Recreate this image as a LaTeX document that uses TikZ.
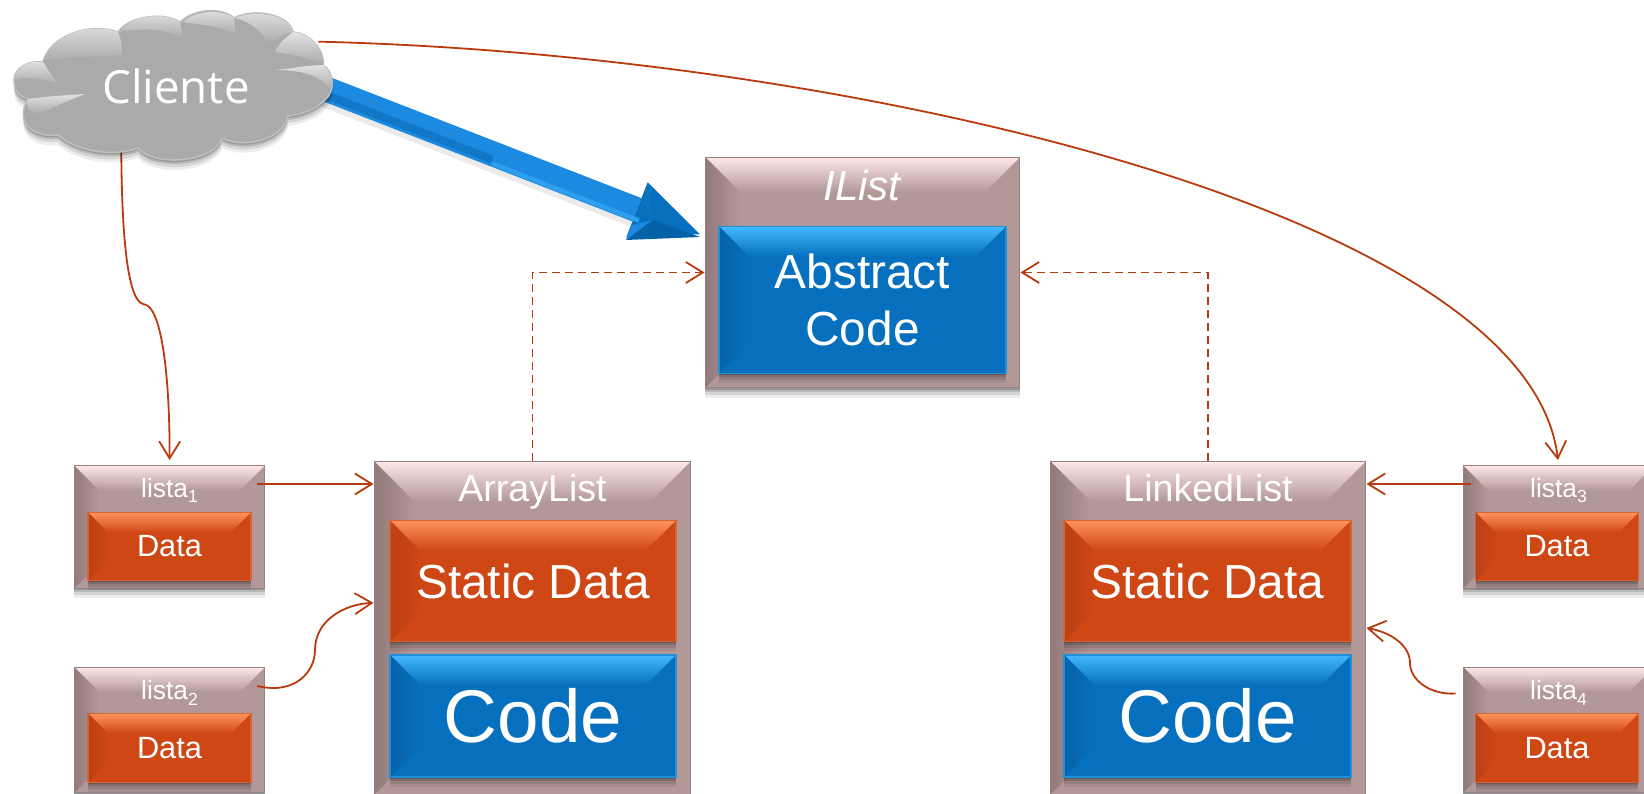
\documentclass[tikz,border=0pt]{standalone}
\usepackage{fontspec}
\setmainfont{Liberation Sans}
\newfontfamily\cloudfont{Open Sans}
\usetikzlibrary{arrows.meta,shadows,calc}
\pgfdeclarelayer{back}
\pgfsetlayers{back,main}

\definecolor{outerbase}{RGB}{179,152,152}
\definecolor{outertop}{RGB}{255,232,232}
\definecolor{outerleft}{RGB}{146,122,122}
\definecolor{orangebase}{RGB}{206,71,21}
\definecolor{orangetop}{RGB}{255,146,92}
\definecolor{orangeleft}{RGB}{186,64,20}
\definecolor{bluebase}{RGB}{6,112,190}
\definecolor{bluetop}{RGB}{66,184,255}
\definecolor{blueleft}{RGB}{5,98,168}
\definecolor{arrowblue}{RGB}{27,138,224}
\definecolor{arrowline}{RGB}{184,58,14}
\definecolor{cloudbase}{RGB}{170,170,170}
\definecolor{cloudlight}{RGB}{226,226,226}

\newcommand{\listasub}[1]{\raisebox{-0.12cm}{\fontsize{10}{10}\selectfont #1}}

\begin{document}
\begin{tikzpicture}[x=0.02cm,y=-0.02cm]
\tikzset{
  >={Straight Barb[length=0.34cm,width=0.42cm,line width=0.036cm]},
  SoftShadow/.style = {
    drop shadow={shadow xshift=0cm, shadow yshift=-0.20cm, opacity=.07, fill=black},
    drop shadow={shadow xshift=0cm, shadow yshift=-0.14cm, opacity=.10, fill=black},
    drop shadow={shadow xshift=0cm, shadow yshift=-0.08cm, opacity=.14, fill=black},
    drop shadow={shadow xshift=0cm, shadow yshift=-0.04cm, opacity=.18, fill=black},
  },
  bevelbox/.style n args = {4}{
    SoftShadow, fill=#1, inner sep=0pt, text=white, align=center,
    path picture={
      \coordinate (pnw) at (path picture bounding box.north west);
      \coordinate (pne) at (path picture bounding box.north east);
      \coordinate (psw) at (path picture bounding box.south west);
      \shade[top color=#2, bottom color=#1]
        (pnw) -- (pne) -- ++(-#4,-#4) -- ([shift={(#4,-#4)}]pnw) -- cycle;
      \shade[left color=#3, right color=#1]
        (pnw) -- ([shift={(#4,-#4)}]pnw) -- ([shift={(#4,#4)}]psw) -- (psw) -- cycle;
    },
  },
  OuterBox/.style = {bevelbox={outerbase}{outertop}{outerleft}{#1},
                     draw=outerbase!85!black, line width=0.02cm},
  OrangeBox/.style = {bevelbox={orangebase}{orangetop}{orangeleft}{#1},
                      draw=orangebase!85!white, line width=0.03cm},
  BlueBox/.style = {bevelbox={bluebase}{bluetop}{blueleft}{#1},
                    draw=bluetop!45!bluebase, line width=0.03cm},
  TitleText/.style = {text=white, inner sep=0pt, text height=0.52cm, text depth=0.1cm},
  ListaTitle/.style = {TitleText, font=\fontsize{15}{15}\selectfont, minimum width=3.5cm,
                       text height=0.52cm, text depth=0cm},
  ConnLine/.style = {draw=arrowline, line width=0.036cm, ->},
  DashLine/.style = {ConnLine, dash pattern=on 0.16cm off 0.1cm},
  Lobe/.style = {top color=cloudlight, bottom color=cloudbase, draw=none},
}
\clip (0,0) rectangle (1644,794);

  % central interface
  \node (ilist) [OuterBox=0.7cm, minimum width=6.3cm, minimum height=4.62cm] at (862.5,272.5) {};
  \node (ilisttitle) [TitleText, font=\fontsize{24}{24}\selectfont\itshape] at (862,190) {IList};
  \node (ilistcode) [BlueBox=0.6cm, minimum width=5.74cm, minimum height=2.94cm,
                     font=\fontsize{27.2}{32.3}\selectfont] at (862.5,300) {Abstract\\Code};

  % left implementation
  \node (arraylist) [OuterBox=0.8cm, minimum width=6.34cm, minimum height=6.68cm] at (532.5,628) {};
  \node (arraytitle) [TitleText, font=\fontsize{21.4}{21}\selectfont] at (532.5,491) {ArrayList};
  \node (arraydata) [OrangeBox=0.6cm, minimum width=5.72cm, minimum height=2.42cm,
                     font=\fontsize{27.2}{27}\selectfont] at (533,581) {Static Data};
  \node (arraycode) [BlueBox=0.6cm, minimum width=5.72cm, minimum height=2.44cm,
                     font=\fontsize{42.5}{43}\selectfont] at (533,716) {Code};

  % right implementation
  \node (linkedlist) [OuterBox=0.8cm, minimum width=6.32cm, minimum height=6.68cm] at (1208,628) {};
  \node (linkedtitle) [TitleText, font=\fontsize{21.4}{21}\selectfont] at (1208,491) {LinkedList};
  \node (linkeddata) [OrangeBox=0.6cm, minimum width=5.74cm, minimum height=2.42cm,
                      font=\fontsize{27.2}{27}\selectfont] at (1207.5,581) {Static Data};
  \node (linkedcode) [BlueBox=0.6cm, minimum width=5.74cm, minimum height=2.44cm,
                      font=\fontsize{42.5}{43}\selectfont] at (1207.5,716) {Code};

  % list instances
  \node (lista1) [OuterBox=0.5cm, minimum width=3.82cm, minimum height=2.46cm] at (169.5,527) {};
  \node (lista1title) [ListaTitle] at (169.5,484) {lista\listasub{1}};
  \node (lista1data) [OrangeBox=0.4cm, minimum width=3.26cm, minimum height=1.36cm,
                      font=\fontsize{17.5}{18}\selectfont] at (169.5,546.5) {Data};

  \node (lista2) [OuterBox=0.5cm, minimum width=3.82cm, minimum height=2.52cm] at (169.5,730) {};
  \node (lista2title) [ListaTitle] at (169.5,686) {lista\listasub{2}};
  \node (lista2data) [OrangeBox=0.4cm, minimum width=3.26cm, minimum height=1.38cm,
                      font=\fontsize{17.5}{18}\selectfont] at (169.5,748) {Data};

  \node (lista3) [OuterBox=0.5cm, minimum width=3.82cm, minimum height=2.46cm] at (1558.5,527) {};
  \node (lista3title) [ListaTitle] at (1558.5,484) {lista\listasub{3}};
  \node (lista3data) [OrangeBox=0.4cm, minimum width=3.26cm, minimum height=1.36cm,
                      font=\fontsize{17.5}{18}\selectfont] at (1557,546.5) {Data};

  \node (lista4) [OuterBox=0.5cm, minimum width=3.82cm, minimum height=2.52cm] at (1558.5,730) {};
  \node (lista4title) [ListaTitle] at (1558.5,686) {lista\listasub{4}};
  \node (lista4data) [OrangeBox=0.4cm, minimum width=3.26cm, minimum height=1.38cm,
                      font=\fontsize{17.5}{18}\selectfont] at (1557,748) {Data};

  \node (cliente) [text=white, inner sep=0pt, minimum width=5.68cm, minimum height=1.76cm,
                   font=\cloudfont\fontsize{26}{26}\selectfont] at (176,86) {Cliente};

  \draw [ConnLine] (lista1title.east) -- (lista1title.east -| arraylist.west);
  \draw [ConnLine] (lista2title.east) .. controls (295,695) and (315,672) .. (315,650)
                   .. controls (315,620) and (345,604) .. (arraylist.171.4);
  \draw [ConnLine] (lista3title.west) -- (lista3title.west -| linkedlist.east);
  \draw [ConnLine, shorten <=0.14cm] (lista4.159.9) .. controls (1430,695) and (1410,680) .. (1410,663)
                   .. controls (1410,645) and (1390,632) .. (linkedlist.east);
  \draw [DashLine] (arraylist.north) |- (ilist.west);
  \draw [DashLine] (linkedlist.north) |- (ilist.east);

  \begin{pgfonlayer}{back}
    \draw [ConnLine, shorten >=0.1cm] (cliente.-141.3) .. controls (121,240) and (128,300) .. (143,304)
                     .. controls (165,305) and (170,400) .. (lista1.north);
    \draw [ConnLine, shorten >=0.1cm] (cliente.north east) .. controls (860,55) and (1530,215) .. (lista3.north);

    % big blue arrow
    \draw [draw=black, opacity=.08, line width=0.5cm, shorten >=1.5cm]
      ([yshift=-0.12cm]cliente.east) -- ([yshift=-0.12cm]ilist.167.3);
    \draw [draw=arrowblue, line width=0.5cm,
           -{Triangle[length=1.35cm,width=1.18cm,line width=0pt,fill=bluebase,color=bluebase]},
           shorten >=0.1cm]
      (cliente.east) -- (ilist.167.3);
    \coordinate (arrowmid) at ($(cliente.east)!0.45!(ilist.167.3)$);
    \coordinate (arrowhead) at ($(cliente.east)!0.83!(ilist.167.3)$);
    \draw [draw=blueleft!45!arrowblue, line width=0.16cm]
      ([yshift=-0.12cm]cliente.east) -- ([yshift=-0.12cm]arrowmid);
    \draw [draw=bluetop!45!arrowblue, line width=0.09cm]
      ([yshift=-0.2cm]arrowmid) -- ([yshift=-0.2cm]arrowhead);
    \fill [blueleft!60!arrowblue] (648,185) -- (642,200) -- (653,220) -- cycle;
    \fill [arrowblue] (626,240) -- (653,220) -- (632,225) -- cycle;
    \fill [blueleft] (626,240) -- (700,237) -- (653,220) -- cycle;

    % the cloud
    \path [SoftShadow, fill=cloudbase, draw=cloudbase!75!white, line width=0.03cm]
      (14,80) .. controls (14,68) and (28,60) .. (43,62)
      .. controls (50,35) and (90,22) .. (118,32)
      .. controls (130,15) and (165,12) .. (180,22)
      .. controls (195,8) and (222,7) .. (234,18)
      .. controls (255,7) and (290,15) .. (293,32)
      .. controls (310,33) and (325,50) .. (323,65)
      .. controls (335,72) and (335,92) .. (325,100)
      .. controls (315,110) and (300,115) .. (288,116)
      .. controls (285,138) and (245,150) .. (222,138)
      .. controls (215,162) and (155,168) .. (138,148)
      .. controls (110,158) and (75,150) .. (58,135)
      .. controls (30,138) and (15,120) .. (28,99)
      .. controls (18,96) and (14,90) .. (14,80) -- cycle;
    \path [Lobe] (43,62) .. controls (50,35) and (90,22) .. (118,32)
      .. controls (122,40) and (122,50) .. (122,55) .. controls (95,58) and (65,55) .. (43,62) -- cycle;
    \path [Lobe] (120,32) .. controls (130,15) and (165,12) .. (180,22)
      .. controls (182,30) and (182,34) .. (182,38) .. controls (165,28) and (140,28) .. (120,32) -- cycle;
    \path [Lobe] (183,22) .. controls (195,10) and (222,9) .. (234,18)
      .. controls (235,25) and (235,30) .. (235,35) .. controls (220,25) and (200,25) .. (183,22) -- cycle;
    \path [Lobe] (235,18) .. controls (255,9) and (290,15) .. (293,32)
      .. controls (280,35) and (275,40) .. (268,44) .. controls (262,30) and (250,22) .. (235,18) -- cycle;
    \path [Lobe] (293,32) .. controls (310,33) and (325,50) .. (323,65)
      .. controls (310,58) and (295,55) .. (275,52) .. controls (280,42) and (285,38) .. (293,32) -- cycle;
    \path [Lobe] (275,70) .. controls (295,68) and (310,65) .. (323,65)
      .. controls (332,72) and (333,85) .. (330,90) .. controls (322,75) and (300,70) .. (275,70) -- cycle;
    \path [Lobe] (14,80) .. controls (14,68) and (28,60) .. (43,62)
      .. controls (48,70) and (55,80) .. (60,85) .. controls (45,78) and (25,76) .. (14,80) -- cycle;
    \path [Lobe] (28,99) .. controls (50,96) and (70,95) .. (85,94)
      .. controls (65,102) and (50,108) .. (40,114) .. controls (30,113) and (25,108) .. (28,99) -- cycle;
  \end{pgfonlayer}

\end{tikzpicture}
\end{document}
